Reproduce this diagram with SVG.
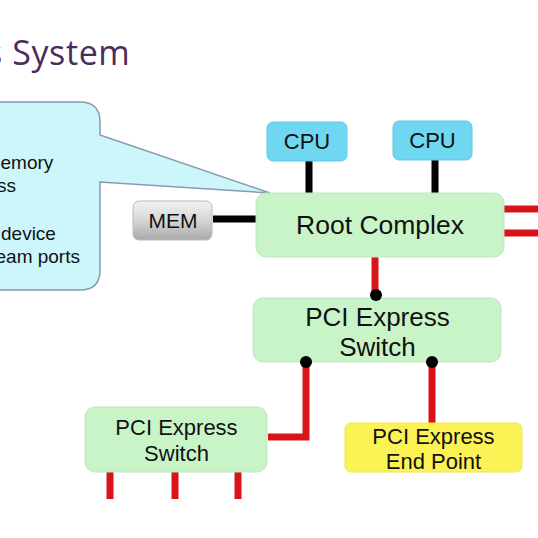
<svg xmlns="http://www.w3.org/2000/svg" width="538" height="538" viewBox="0 0 538 538">
<defs>
<linearGradient id="memg" x1="0" y1="0" x2="0" y2="1">
<stop offset="0" stop-color="#f2f2f2"/>
<stop offset="0.5" stop-color="#d6d6d6"/>
<stop offset="1" stop-color="#a8a8a8"/>
</linearGradient>
<style>
.t{font-family:"Liberation Sans",Arial,sans-serif;fill:#111;text-anchor:middle}
.green{fill:#c8f4c8;stroke:#bde8bd;stroke-width:1}
.cpu{fill:#6fd7f2;stroke:#62c9e6;stroke-width:1}
.red{stroke:#d8141a;stroke-width:7;fill:none}
.blk{stroke:#000;stroke-width:7;fill:none}
.dot{fill:#000}
</style>
</defs>
<rect width="538" height="538" fill="#fff"/>
<text x="-14" y="65" font-family="'Open Sans',Lato,sans-serif" font-size="34" letter-spacing="0.6" fill="#4b2c5c">s System</text>

<g id="callout">
<path d="M-20,102 H80 Q100,102 100,122 V135 L270,193 L100,182 V270 Q100,290 80,290 H-20 Z" fill="#cdf6fb" stroke="#8a98b0" stroke-width="1.5"/>
<text font-family="'Liberation Sans',Arial,sans-serif" font-size="19" fill="#111">
<tspan x="0.5" y="169">emory</tspan>
<tspan x="-3" y="192">ss</tspan>
<tspan x="1" y="240">device</tspan>
<tspan x="-4.5" y="263">eam ports</tspan>
</text>
</g>

<g id="connectors">
<line class="blk" x1="213" y1="219" x2="256" y2="219"/>
<line class="blk" x1="309" y1="161" x2="309" y2="193"/>
<line class="blk" x1="435" y1="160" x2="435" y2="193"/>
<line class="red" x1="504" y1="209" x2="538" y2="209"/>
<line class="red" x1="504" y1="233" x2="538" y2="233"/>
<line class="red" x1="375" y1="257" x2="375" y2="295"/>
<polyline class="red" points="306,362 306,437 268,437"/>
<line class="red" x1="432" y1="362" x2="432" y2="423"/>
<line class="red" x1="110" y1="472" x2="110" y2="499"/>
<line class="red" x1="175" y1="472" x2="175" y2="499"/>
<line class="red" x1="238" y1="472" x2="238" y2="499"/>
</g>

<g id="mem">
<rect x="133" y="201" width="79" height="39" rx="6" fill="url(#memg)" stroke="#bbb"/>
<text class="t" x="173" y="228" font-size="21">MEM</text>
</g>

<g id="cpu1">
<rect class="cpu" x="267" y="122" width="80" height="39" rx="6"/>
<text class="t" x="307" y="149" font-size="22">CPU</text>
</g>
<g id="cpu2">
<rect class="cpu" x="393" y="121" width="79" height="39" rx="6"/>
<text class="t" x="432.5" y="148" font-size="22">CPU</text>
</g>

<g id="root-complex">
<rect class="green" x="256" y="193" width="248" height="64" rx="10"/>
<text class="t" x="380" y="234" font-size="26.5">Root Complex</text>
</g>

<g id="switch-top">
<rect class="green" x="253" y="298" width="248" height="64" rx="10"/>
<text class="t" x="377.5" y="326" font-size="26">PCI Express</text>
<text class="t" x="377.5" y="356" font-size="26">Switch</text>
<circle class="dot" cx="376" cy="295" r="6"/>
<circle class="dot" cx="306" cy="362" r="6"/>
<circle class="dot" cx="432" cy="362" r="6"/>
</g>

<g id="switch-left">
<rect class="green" x="85" y="407" width="182" height="65" rx="10"/>
<text class="t" x="176.5" y="435" font-size="22">PCI Express</text>
<text class="t" x="176.5" y="461" font-size="22">Switch</text>
</g>

<g id="end-point">
<rect x="345" y="423" width="177" height="49" rx="6" fill="#fbf256" stroke="#f0e64a"/>
<text class="t" x="433.5" y="444" font-size="22">PCI Express</text>
<text class="t" x="433.5" y="469" font-size="22">End Point</text>
</g>
</svg>
